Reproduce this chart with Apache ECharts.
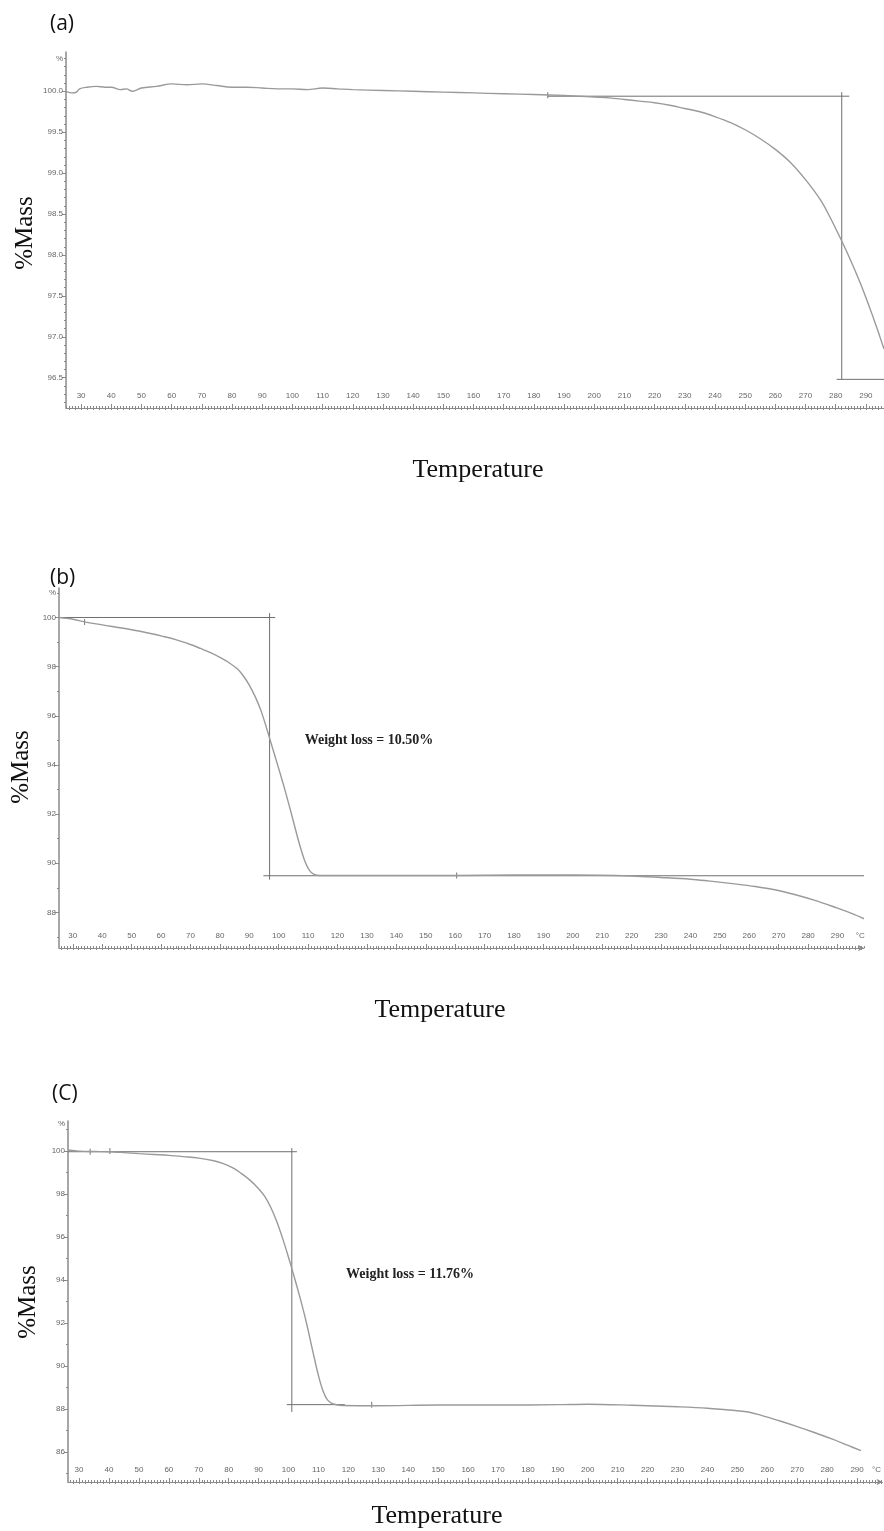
<!DOCTYPE html>
<html>
<head>
<meta charset="UTF-8">
<title>TGA curves</title>
<script src="https://cdn.jsdelivr.net/npm/echarts@6/dist/echarts.min.js"></script>
<style>
  html, body { margin: 0; padding: 0; background: #fff; }
  #chart { width: 884px; height: 1531px; }
</style>
</head>
<body>
<div id="chart"></div>
<script>
// ---- data ----
// (a)
var tempA = [25, 27, 28.5, 29.5, 32, 35, 38, 40, 43, 45, 47, 50, 55, 60, 65, 70, 75, 80, 85, 90, 95, 100, 105, 110, 115, 120, 130, 140, 150, 160, 170, 180, 190, 195, 200, 205, 210, 215, 220, 225, 230, 235, 240, 245, 250, 255, 260, 265, 270, 275, 278, 282, 285, 288, 290, 292, 294, 296];
var massA = [100.0, 99.98, 99.99, 100.03, 100.05, 100.06, 100.05, 100.05, 100.02, 100.03, 100.0, 100.04, 100.06, 100.09, 100.08, 100.09, 100.07, 100.05, 100.05, 100.04, 100.03, 100.03, 100.02, 100.04, 100.03, 100.02, 100.01, 100.0, 99.99, 99.98, 99.97, 99.96, 99.95, 99.94, 99.93, 99.92, 99.9, 99.88, 99.86, 99.83, 99.79, 99.75, 99.69, 99.62, 99.53, 99.42, 99.29, 99.13, 98.92, 98.67, 98.47, 98.17, 97.93, 97.67, 97.48, 97.28, 97.07, 96.85];
// (b)
var tempB = [25.3, 30, 34, 40, 50, 56, 60, 65, 70, 73.4, 77, 80, 83, 86, 88, 90, 92, 94, 96, 97, 99, 101, 103, 105, 107, 109, 110.5, 112, 114, 120, 140, 160, 180, 200, 220, 230, 240, 246, 255, 262, 271, 282, 290, 295, 299];
var massB = [100.0, 99.93, 99.82, 99.7, 99.5, 99.36, 99.25, 99.1, 98.9, 98.74, 98.56, 98.38, 98.17, 97.9, 97.62, 97.25, 96.78, 96.2, 95.45, 95.05, 94.25, 93.45, 92.6, 91.7, 90.8, 90.05, 89.7, 89.55, 89.5, 89.5, 89.5, 89.5, 89.52, 89.52, 89.48, 89.42, 89.35, 89.28, 89.16, 89.05, 88.86, 88.5, 88.17, 87.95, 87.74];
// (c)
var tempC = [26.3, 30, 35, 40, 45, 50, 55, 60, 65, 70, 75, 78, 81.4, 84, 87, 90, 92, 94, 96, 98, 100, 102, 104, 106, 108, 110, 111.5, 113, 115, 118, 130, 150, 170, 190, 200, 215, 230, 240, 253, 258, 264, 270, 275, 282, 287, 291.3];
var massC = [100.05, 100.0, 99.98, 99.97, 99.93, 99.88, 99.84, 99.8, 99.74, 99.67, 99.55, 99.43, 99.22, 98.98, 98.66, 98.25, 97.9, 97.4, 96.75, 95.95, 95.05, 94.1, 93.1, 92.0, 90.75, 89.55, 88.85, 88.42, 88.23, 88.16, 88.15, 88.18, 88.18, 88.2, 88.22, 88.17, 88.1, 88.03, 87.87, 87.7, 87.45, 87.18, 86.94, 86.58, 86.3, 86.06];

// tangent construction lines [temp, mass]
var tangA = [[[184.6, 99.94], [284.5, 99.94]], [[282, 99.99], [282, 96.48]], [[280.3, 96.48], [296, 96.48]]];
var tangB = [[[25.3, 100.0], [98.8, 100.0]], [[96.9, 100.18], [96.9, 89.33]], [[94.8, 89.49], [299, 89.49]]];
var tangC = [[[26.3, 99.97], [102.8, 99.97]], [[101.1, 100.14], [101.1, 87.86]], [[99.4, 88.2], [118.8, 88.2]]];
// small event marks on the curves
var marksA = [[184.6, 99.95]];
var marksB = [[34, 99.82], [160.5, 89.5]];
var marksC = [[33.7, 99.97], [40.3, 100.0], [127.8, 88.2]];

// axis labels
var xLabels = [30, 40, 50, 60, 70, 80, 90, 100, 110, 120, 130, 140, 150, 160, 170, 180, 190, 200, 210, 220, 230, 240, 250, 260, 270, 280, 290];
var yLabelsA = [96.5, 97.0, 97.5, 98.0, 98.5, 99.0, 99.5, 100.0];
var yLabelsB = [88, 90, 92, 94, 96, 98, 100];
var yLabelsC = [86, 88, 90, 92, 94, 96, 98, 100];
var weightLoss = ['Weight loss = 10.50%', 'Weight loss = 11.76%'];

function steps(from, to, step) {
  var out = [];
  for (var v = from; v <= to + 1e-9; v += step) out.push(Math.round(v * 100) / 100);
  return out;
}
function pairs(t, m) { return t.map(function (x, i) { return [x, m[i]]; }); }

var gray = '#8a8a8a';
var lblColor = '#666';
var serif = '"Liberation Serif", "DejaVu Serif", serif';

var panels = [
  { grid: { left: 66, top: 52, width: 818, height: 356 }, x: [25, 296], y: [96.13, 100.48],
    yLab: yLabelsA.concat([100.4]), yMinor: steps(96.2, 100.4, 0.1), dec: 1, pct: 100.4,
    xEnd: null, arrow: false, curve: pairs(tempA, massA), tang: tangA, marks: marksA },
  { grid: { left: 59, top: 588, width: 805, height: 360 }, x: [25.3, 299], y: [86.55, 101.2],
    yLab: yLabelsB.concat([101]), yMinor: steps(87, 101, 1), dec: 0, pct: 101,
    xEnd: 297.7, arrow: true, curve: pairs(tempB, massB), tang: tangB, marks: marksB },
  { grid: { left: 68, top: 1121, width: 816, height: 361 }, x: [26.3, 298.5], y: [84.6, 101.4],
    yLab: yLabelsC.concat([101.25]), yMinor: steps(85, 101, 1), dec: 0, pct: 101.25,
    xEnd: 296.5, arrow: true, curve: pairs(tempC, massC), tang: tangC, marks: marksC }
];

var grids = [], xAxes = [], yAxes = [], series = [];
panels.forEach(function (p, i) {
  grids.push(p.grid);
  var xl = p.xEnd ? xLabels.concat([p.xEnd]) : xLabels;
  // main x axis: labels inside, ticks every 10
  xAxes.push({
    type: 'value', gridIndex: i, position: 'bottom', min: p.x[0], max: p.x[1],
    axisLine: { show: true, lineStyle: { color: gray, width: 1 },
      symbol: p.arrow ? ['none', 'arrow'] : 'none', symbolSize: [5, 6] },
    axisTick: { show: true, inside: true, length: 4, customValues: xLabels, lineStyle: { color: gray } },
    axisLabel: { inside: true, margin: 8, fontSize: 8, color: lblColor, customValues: xl,
      formatter: function (v) { return v > 295 ? '°C' : String(v); } },
    splitLine: { show: false }
  });
  // ruler ticks along the x axis
  xAxes.push({
    type: 'value', gridIndex: i, position: 'bottom', min: p.x[0], max: p.x[1],
    axisLine: { show: false },
    axisTick: { show: true, inside: true, length: 2, customValues: steps(Math.ceil(p.x[0]), Math.floor(p.x[1]), 1),
      lineStyle: { color: gray } },
    axisLabel: { show: false }, splitLine: { show: false }
  });
  xAxes.push({
    type: 'value', gridIndex: i, position: 'bottom', min: p.x[0], max: p.x[1],
    axisLine: { show: false },
    axisTick: { show: true, inside: false, length: 2, customValues: steps(Math.ceil(p.x[0] / 2) * 2, Math.floor(p.x[1]), 2),
      lineStyle: { color: gray } },
    axisLabel: { show: false }, splitLine: { show: false }
  });
  // y axis: labels + major ticks
  yAxes.push({
    type: 'value', gridIndex: i, position: 'left', min: p.y[0], max: p.y[1],
    axisLine: { show: true, lineStyle: { color: gray, width: 1.5 } },
    axisTick: { show: true, length: 4, customValues: p.yLab.slice(0, -1), lineStyle: { color: gray } },
    axisLabel: { fontSize: 8, color: lblColor, margin: 3, customValues: p.yLab,
      formatter: function (v) { return Math.abs(v - p.pct) < 1e-6 ? '%' : v.toFixed(p.dec); } },
    splitLine: { show: false }
  });
  yAxes.push({
    type: 'value', gridIndex: i, position: 'left', min: p.y[0], max: p.y[1],
    axisLine: { show: false },
    axisTick: { show: true, length: 2, customValues: p.yMinor, lineStyle: { color: gray } },
    axisLabel: { show: false }, splitLine: { show: false }
  });
  var xi = i * 3, yi = i * 2;
  p.tang.forEach(function (seg) {
    series.push({ type: 'line', xAxisIndex: xi, yAxisIndex: yi, data: seg, symbol: 'none', silent: true,
      lineStyle: { color: '#6f6f6f', width: 1 } });
  });
  series.push({ type: 'line', xAxisIndex: xi, yAxisIndex: yi, data: p.curve, symbol: 'none',
    smooth: 0.35, silent: true, lineStyle: { color: '#9a9a9a', width: 1.4 } });
  series.push({ type: 'scatter', xAxisIndex: xi, yAxisIndex: yi, data: p.marks, symbol: 'rect',
    symbolSize: [1, 6], silent: true, itemStyle: { color: '#555' } });
});

var titleFont = '"Open Sans", "Liberation Sans", sans-serif';
var graphics = [
  { type: 'text', left: 50, top: 14, style: { text: '(a)', font: '21px ' + titleFont, fill: '#111' } },
  { type: 'text', left: 50, top: 568, style: { text: '(b)', font: '21px ' + titleFont, fill: '#111' } },
  { type: 'text', left: 52, top: 1084, style: { text: '(C)', font: '21px ' + titleFont, fill: '#111' } }
];
[[25, 233], [21, 767], [28, 1302]].forEach(function (c) {
  graphics.push({ type: 'text', x: c[0], y: c[1], rotation: Math.PI / 2,
    style: { text: '%Mass', font: '25px ' + serif, fill: '#111', align: 'center', verticalAlign: 'middle' } });
});
[[478, 470], [440, 1010], [437, 1516]].forEach(function (c) {
  graphics.push({ type: 'text', x: c[0], y: c[1],
    style: { text: 'Temperature', font: '26px ' + serif, fill: '#111', align: 'center', verticalAlign: 'middle' } });
});
graphics.push({ type: 'text', x: 369, y: 740,
  style: { text: weightLoss[0], font: 'bold 14px ' + serif, fill: '#222', align: 'center', verticalAlign: 'middle' } });
graphics.push({ type: 'text', x: 410, y: 1274,
  style: { text: weightLoss[1], font: 'bold 14px ' + serif, fill: '#222', align: 'center', verticalAlign: 'middle' } });

var chart = echarts.init(document.getElementById('chart'), null, { renderer: 'canvas' });
chart.setOption({
  backgroundColor: '#fff',
  animation: false,
  grid: grids,
  xAxis: xAxes,
  yAxis: yAxes,
  series: series,
  graphic: graphics
});
</script>
</body>
</html>
